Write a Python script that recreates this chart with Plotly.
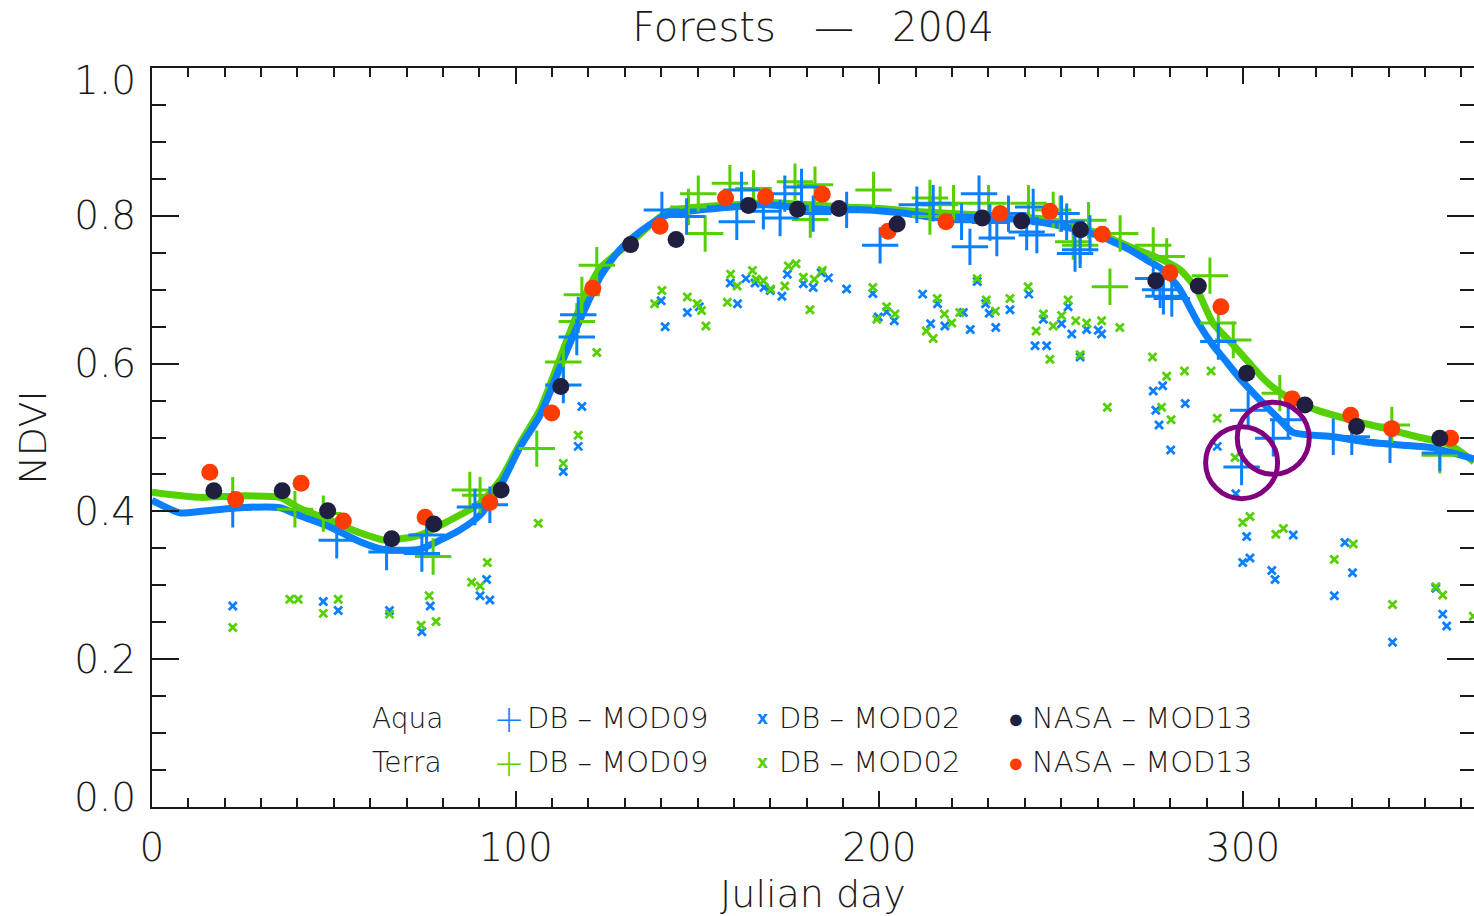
import plotly.graph_objects as go

# ---------------- data (Julian day, NDVI) ----------------
aqua_fit_day = [0, 7.7, 13.2, 24.2, 35.2, 40.7, 48.9, 57.2, 64.1, 73.7, 79.2, 84.7, 90.2, 95.7, 101.2, 106.7,
                114.1, 118.5, 123.2, 127.9, 132.3, 136.9, 141.6, 150.7, 159.7, 169.1, 178.2, 187.2, 196.6, 205.7,
                214.7, 224.1, 233.2, 246.1, 259.8, 268.9, 273.6, 278.0, 282.7, 287.3, 291.7, 295.0, 299.1, 304.6,
                310.1, 313.7, 324.7, 334.1, 343.1, 352.2, 363.5]
aqua_fit_ndvi = [0.415, 0.398, 0.400, 0.405, 0.405, 0.394, 0.379, 0.359, 0.348, 0.349, 0.361, 0.375, 0.395, 0.433,
                 0.487, 0.530, 0.618, 0.668, 0.717, 0.750, 0.771, 0.788, 0.801, 0.808, 0.812, 0.815, 0.811, 0.808,
                 0.808, 0.804, 0.798, 0.798, 0.797, 0.790, 0.774, 0.754, 0.740, 0.727, 0.700, 0.658, 0.625, 0.605,
                 0.580, 0.551, 0.524, 0.507, 0.501, 0.494, 0.490, 0.486, 0.471]

terra_fit_day = [0, 13.2, 24.2, 35.2, 40.7, 48.9, 57.2, 64.1, 73.7, 81.9, 90.2, 95.7, 101.2, 106.7, 114.1, 118.5,
                 123.2, 132.3, 141.6, 150.7, 160, 170, 180, 190, 200, 210, 220, 233, 246, 259.8, 268.9, 278.0,
                 282.7, 287.3, 291.7, 296.4, 301.5, 305.5, 308.2, 312.1, 320.3, 329.4, 338.5, 347.8, 356.9, 363.5]
terra_fit_ndvi = [0.426, 0.419, 0.421, 0.419, 0.404, 0.388, 0.371, 0.361, 0.368, 0.388, 0.411, 0.442, 0.492, 0.538,
                  0.632, 0.686, 0.729, 0.767, 0.805, 0.812, 0.815, 0.818, 0.815, 0.812, 0.810, 0.806, 0.803, 0.800,
                  0.795, 0.777, 0.758, 0.740, 0.727, 0.700, 0.655, 0.630, 0.602, 0.580, 0.568, 0.555, 0.537, 0.524,
                  0.513, 0.501, 0.490, 0.467]

aqua_mod09_day = [22.2, 50.8, 64.5, 74.2, 75.5, 92.9, 88.8, 113.1, 116.8, 117.2, 140.2, 147.0, 160.8, 162.1, 168.1,
                  172.7, 174.0, 178.6, 181.8, 191.0, 200.2, 210.3, 214.8, 222.6, 224.9, 227.4, 230.4, 232.3, 235.5,
                  240.5, 242.3, 243.3, 250.1, 251.5, 253.8, 255.2, 257.9, 275.3, 277.2, 278.1, 280.4, 293.2, 299.6,
                  301.4, 308.3, 312.4, 324.8, 329.9, 340.4, 354.1]
aqua_mod09_ndvi = [0.403, 0.361, 0.345, 0.343, 0.368, 0.409, 0.406, 0.571, 0.636, 0.666, 0.808, 0.799, 0.792, 0.835,
                   0.806, 0.797, 0.830, 0.839, 0.803, 0.808, 0.760, 0.815, 0.817, 0.792, 0.758, 0.830, 0.791, 0.770,
                   0.803, 0.778, 0.812, 0.774, 0.803, 0.792, 0.749, 0.754, 0.776, 0.715, 0.700, 0.691, 0.688, 0.630,
                   0.460, 0.537, 0.499, 0.524, 0.501, 0.501, 0.490, 0.479]

terra_mod09_day = [22.2, 39.3, 47.1, 77.3, 87.4, 90.2, 105.8, 113.1, 116.8, 118.2, 122.3, 147.5, 150.2, 152.1, 158.9,
                   165.4, 176.8, 182.3, 181.0, 198.4, 213.9, 213.9, 216.7, 220.4, 230.0, 241.0, 247.8, 249.7, 253.3,
                   255.2, 257.5, 263.4, 266.2, 275.3, 279.0, 290.9, 293.2, 297.3, 310.1, 340.9, 354.1]
terra_mod09_ndvi = [0.422, 0.403, 0.397, 0.339, 0.429, 0.422, 0.485, 0.602, 0.657, 0.693, 0.733, 0.812, 0.830, 0.776,
                    0.844, 0.837, 0.846, 0.842, 0.795, 0.835, 0.799, 0.824, 0.815, 0.817, 0.817, 0.817, 0.808, 0.803,
                    0.765, 0.760, 0.794, 0.704, 0.776, 0.760, 0.745, 0.719, 0.655, 0.632, 0.560, 0.517, 0.476]

aqua_mod02_day = [22.2, 47.1, 51.2, 65.3, 74.2, 76.5, 90.2, 92.0, 92.9, 118.2,
                  117.2, 113.1, 140.0, 141.1, 147.2, 150.5, 159.0, 161.0, 163.3, 165.8,
                  168.3, 170.0, 173.2, 174.7, 179.1, 181.8, 184.0, 186.0, 191.0, 198.2,
                  199.7, 202.0, 204.1, 211.9, 214.1, 216.0, 218.0, 223.1, 225.0, 226.9,
                  229.2, 230.2, 232.0, 235.9, 241.1, 242.8, 245.1, 246.0, 250.1, 251.9,
                  252.9, 255.2, 257.0, 260.2, 261.1, 275.3, 277.9, 276.0, 276.9, 284.1,
                  280.1, 292.9, 298.0, 301.0, 299.9, 301.9, 307.9, 308.8, 313.8, 328.0,
                  330.1, 325.1, 341.1, 353.0, 354.9, 356.0]
aqua_mod02_ndvi = [0.272, 0.278, 0.266, 0.266, 0.237, 0.272, 0.286, 0.308, 0.280, 0.542,
                   0.488, 0.454, 0.685, 0.650, 0.669, 0.677, 0.709, 0.681, 0.715, 0.709,
                   0.703, 0.699, 0.691, 0.721, 0.708, 0.703, 0.723, 0.716, 0.701, 0.695,
                   0.663, 0.670, 0.658, 0.694, 0.654, 0.681, 0.651, 0.669, 0.646, 0.711,
                   0.681, 0.668, 0.649, 0.673, 0.694, 0.624, 0.660, 0.624, 0.654, 0.677,
                   0.640, 0.609, 0.646, 0.645, 0.640, 0.563, 0.570, 0.537, 0.517, 0.546,
                   0.483, 0.488, 0.424, 0.366, 0.331, 0.337, 0.320, 0.308, 0.368, 0.358,
                   0.317, 0.286, 0.223, 0.296, 0.261, 0.245]

terra_mod02_day = [22.2, 37.9, 40.2, 47.1, 51.2, 65.3, 74.0, 76.2, 78.1, 87.9,
                   90.2, 92.2, 106.2, 113.1, 117.2, 122.3, 138.2, 140.2, 147.2, 149.9,
                   151.1, 152.3, 158.2, 159.1, 160.9, 165.1, 166.1, 168.1, 170.1, 174.0,
                   175.0, 177.1, 179.1, 180.9, 182.1, 184.3, 198.2, 199.3, 202.0, 204.3,
                   212.9, 214.8, 215.9, 217.9, 219.9, 222.1, 226.9, 229.4, 231.9, 235.9,
                   240.9, 243.1, 245.1, 246.9, 247.8, 250.1, 251.9, 254.0, 255.2, 257.0,
                   261.1, 266.1, 275.1, 279.0, 283.9, 291.2, 262.7, 277.6, 280.2, 292.9,
                   297.8, 299.9, 301.9, 309.0, 311.1, 325.1, 330.3, 341.1, 353.0, 354.9, 363.3]
terra_mod02_ndvi = [0.243, 0.281, 0.281, 0.262, 0.281, 0.261, 0.246, 0.286, 0.251, 0.304,
                    0.299, 0.331, 0.384, 0.465, 0.503, 0.615, 0.681, 0.699, 0.690, 0.681,
                    0.672, 0.651, 0.683, 0.721, 0.705, 0.726, 0.714, 0.712, 0.701, 0.705,
                    0.732, 0.735, 0.717, 0.673, 0.714, 0.726, 0.703, 0.660, 0.677, 0.667,
                    0.644, 0.634, 0.688, 0.667, 0.655, 0.669, 0.715, 0.686, 0.671, 0.688,
                    0.704, 0.644, 0.667, 0.606, 0.651, 0.665, 0.686, 0.658, 0.612, 0.655,
                    0.658, 0.649, 0.609, 0.583, 0.590, 0.590, 0.541, 0.541, 0.524, 0.526,
                    0.473, 0.385, 0.393, 0.369, 0.377, 0.335, 0.356, 0.274, 0.298, 0.287, 0.258]

aqua_mod13_day = [17.0, 35.8, 48.3, 65.9, 77.5, 96.0, 112.4, 131.6, 144.1, 164.0, 177.5, 188.9, 204.9, 228.3,
                  239.1, 255.3, 276.0, 287.7, 301.0, 317.0, 331.2, 354.1]
aqua_mod13_ndvi = [0.428, 0.428, 0.401, 0.363, 0.383, 0.429, 0.569, 0.761, 0.768, 0.814, 0.809, 0.810, 0.789, 0.797,
                   0.793, 0.781, 0.712, 0.705, 0.587, 0.544, 0.515, 0.499]

terra_mod13_day = [15.9, 23.0, 41.0, 52.6, 75.1, 92.9, 109.9, 121.2, 139.7, 157.7, 168.7, 184.3, 202.4, 218.3,
                   233.2, 246.9, 261.3, 279.9, 293.9, 313.5, 329.6, 340.9, 357.1]
terra_mod13_ndvi = [0.453, 0.416, 0.438, 0.387, 0.392, 0.412, 0.533, 0.702, 0.786, 0.824, 0.826, 0.829, 0.779, 0.792,
                    0.803, 0.806, 0.775, 0.723, 0.677, 0.552, 0.530, 0.512, 0.499]

highlight_day = [299.6, 308.3]
highlight_ndvi = [0.466, 0.499]

x_tickvals = [0, 100, 200, 300]
y_tickvals = [0.0, 0.2, 0.4, 0.6, 0.8, 1.0]
# the end labels (0.0, 1.0) are drawn nudged inward, as in the original
y_ticktext = ["", "0.2", "0.4", "0.6", "0.8", ""]
y_end_labels = ["0.0", "1.0"]

# ---------------- style ----------------
BLUE = "#0a80ff"
GREEN = "#55d000"
NAVY = "#1f1f40"
RED = "#ff3c00"
PURPLE = "#800080"
INK = "#1a1a1a"
FONT = "DejaVu Sans"
THIN = 200

fig = go.Figure()

fig.add_trace(go.Scatter(x=aqua_mod02_day, y=aqua_mod02_ndvi, mode="markers", name="Aqua DB - MOD02",
                         marker=dict(symbol="x-thin-open", size=8, color=BLUE, line=dict(width=2.8, color=BLUE))))
fig.add_trace(go.Scatter(x=terra_mod02_day, y=terra_mod02_ndvi, mode="markers", name="Terra DB - MOD02",
                         marker=dict(symbol="x-thin-open", size=8, color=GREEN, line=dict(width=2.8, color=GREEN))))
fig.add_trace(go.Scatter(x=terra_fit_day, y=terra_fit_ndvi, mode="lines", name="Terra fit",
                         line=dict(color=GREEN, width=7, shape="spline", smoothing=0.6)))
fig.add_trace(go.Scatter(x=aqua_fit_day, y=aqua_fit_ndvi, mode="lines", name="Aqua fit",
                         line=dict(color=BLUE, width=7, shape="spline", smoothing=0.6)))
fig.add_trace(go.Scatter(x=terra_mod09_day, y=terra_mod09_ndvi, mode="markers", name="Terra DB - MOD09",
                         marker=dict(symbol="cross-thin-open", size=26, color=GREEN, line=dict(width=3, color=GREEN))))
fig.add_trace(go.Scatter(x=aqua_mod09_day, y=aqua_mod09_ndvi, mode="markers", name="Aqua DB - MOD09",
                         marker=dict(symbol="cross-thin-open", size=26, color=BLUE, line=dict(width=3, color=BLUE))))
fig.add_trace(go.Scatter(x=terra_mod13_day, y=terra_mod13_ndvi, mode="markers", name="Terra NASA - MOD13",
                         marker=dict(symbol="circle", size=17, color=RED, line=dict(width=0))))
fig.add_trace(go.Scatter(x=aqua_mod13_day, y=aqua_mod13_ndvi, mode="markers", name="Aqua NASA - MOD13",
                         marker=dict(symbol="circle", size=17, color=NAVY, line=dict(width=0))))
fig.add_trace(go.Scatter(x=highlight_day, y=highlight_ndvi, mode="markers", name="highlight",
                         marker=dict(symbol="circle-open", size=72, color=PURPLE, line=dict(width=5, color=PURPLE))))

# ---------------- legend (text) ----------------
L = 152.0
W = 1322.0
B = 807.0
H = 739.0


def px(v):
    return (v - L) / W


def py(v):
    return (B - v) / H


rows = [("Aqua", BLUE, NAVY, 718), ("Terra", GREEN, RED, 762)]
ann = []
nb = "\u00a0"
for label, c1, c3, yy in rows:
    ann.append(dict(x=px(370), y=py(yy), text=label, xanchor="left", yanchor="middle",
                    font=dict(size=28, color=INK, family=FONT, weight=THIN)))
    ann.append(dict(x=px(509), y=py(yy), text="＋", xanchor="center", yanchor="middle", height=28, width=26,
                    font=dict(size=32, color=c1, family="Noto Sans CJK SC", weight=THIN)))
    ann.append(dict(x=px(525), y=py(yy), text="DB" + nb + "–" + nb + "MOD09", xanchor="left", yanchor="middle",
                    font=dict(size=29, color=INK, family=FONT, weight=THIN)))
    ann.append(dict(x=px(762), y=py(yy), text="<b>x</b>", xanchor="center", yanchor="middle", height=22,
                    font=dict(size=17, color=c1, family=FONT)))
    ann.append(dict(x=px(777), y=py(yy), text="DB" + nb + "–" + nb + "MOD02", xanchor="left", yanchor="middle",
                    font=dict(size=29, color=INK, family=FONT, weight=THIN)))
    ann.append(dict(x=px(1016), y=py(yy), text="●", xanchor="center", yanchor="middle", height=24, width=20,
                    font=dict(size=27, color=c3, family=FONT)))
    ann.append(dict(x=px(1030), y=py(yy), text="NASA" + nb + "–" + nb + "MOD13", xanchor="left", yanchor="middle",
                    font=dict(size=29, color=INK, family=FONT, weight=THIN)))

# end tick labels of the y axis, nudged inside the axis range
for lab, yy in zip(y_end_labels, [797, 81]):
    ann.append(dict(x=px(138), y=py(yy), text=lab, xanchor="right", yanchor="middle",
                    font=dict(size=39, color=INK, family=FONT, weight=THIN)))

for a in ann:
    a.update(xref="paper", yref="paper", showarrow=False)

fig.update_layout(
    width=1474, height=916,
    margin=dict(l=152, r=0, t=68, b=109),
    paper_bgcolor="white", plot_bgcolor="white",
    showlegend=False,
    font=dict(family=FONT, color=INK, weight=THIN),
    title=dict(text="Forests" + nb * 3 + "—" + nb * 3 + "2004", x=(813) / 1474, xanchor="center",
               y=1 - 27 / 916, yanchor="middle", yref="container", xref="container",
               font=dict(size=40, color=INK, family=FONT, weight=THIN)),
    annotations=ann,
    xaxis=dict(range=[0, 363.5], tickvals=x_tickvals, ticks="inside", ticklen=16, tickwidth=2,
               tickcolor=INK, showline=True, linewidth=2, linecolor=INK, mirror="ticks",
               showgrid=False, zeroline=False, tickfont=dict(size=39, color=INK, weight=THIN),
               minor=dict(dtick=10, tick0=0, ticks="inside", ticklen=9, tickwidth=2, tickcolor=INK, showgrid=False),
               title=dict(text="Julian" + nb + "day", font=dict(size=38, color=INK, weight=THIN), standoff=14),
               ticklabelstandoff=5, automargin=False),
    yaxis=dict(range=[0, 1], tickvals=y_tickvals, ticktext=y_ticktext, ticks="inside", ticklen=27, tickwidth=2,
               tickcolor=INK, showline=True, linewidth=2, linecolor=INK, mirror="ticks",
               showgrid=False, zeroline=False, tickfont=dict(size=39, color=INK, weight=THIN),
               minor=dict(dtick=0.05, tick0=0, ticks="inside", ticklen=14, tickwidth=2, tickcolor=INK, showgrid=False),
               title=dict(text="NDVI", font=dict(size=38, color=INK, weight=THIN), standoff=16),
               ticklabelstandoff=6, automargin=False),
)

fig.write_html("out.html")
